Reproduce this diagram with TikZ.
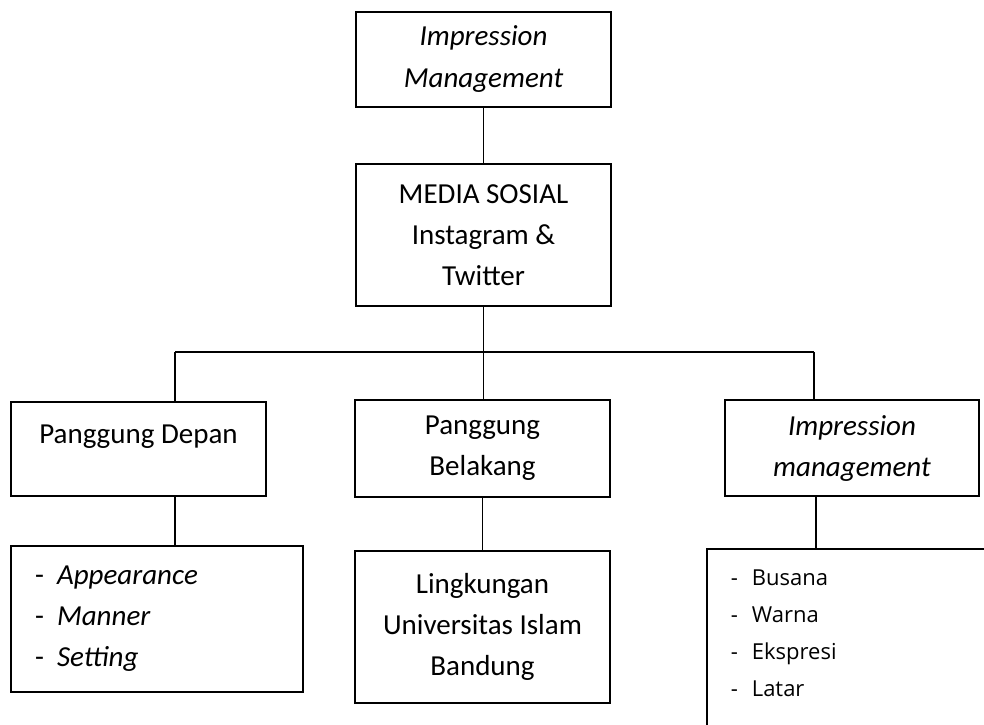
\documentclass[tikz,border=0pt]{standalone}
\usepackage{fontspec}
\setmainfont{Carlito}
\newfontfamily\osans{Open Sans}
\usetikzlibrary{positioning}

\begin{document}
\begin{tikzpicture}[x=0.5pt,y=-0.5pt,
  box/.style={draw, line width=0.85pt, inner sep=0pt, align=center,
    font=\fontsize{14.5}{20.5}\selectfont},
  listbox/.style={box, align=left, inner xsep=12pt},
  small/.style={font=\osans\fontsize{11}{18.5}\selectfont},
  link/.style={line width=0.6pt}]
\useasboundingbox (0,0) rectangle (984,724);
\clip (0,0) rectangle (984,724);

\node[box, minimum width=127.5pt, minimum height=47.5pt] (im) at (483.5,59.5)
  {\itshape Impression\\[0.5pt]\itshape Management};
\node[box, minimum width=127.5pt, minimum height=71pt] (ms) at (483.5,235)
  {MEDIA SOSIAL\\Instagram \&\\Twitter};

\node[box, minimum width=127.5pt, minimum height=47pt] (pd) at (138.5,449)
  {Panggung Depan\\[-12pt]\strut};
\node[box, minimum width=127.5pt, minimum height=48.5pt] (pb) at (482.5,448.5)
  {Panggung\\Belakang};
\node[box, minimum width=127pt, minimum height=48pt] (imr) at (852,448)
  {\itshape Impression\\\itshape management};

\node[listbox, text width=122pt, minimum height=73pt] (asp) at (157,619)
  {\makebox[11pt][l]{-}\textit{Appearance}\\
   \makebox[11pt][l]{-}\textit{Manner}\\
   \makebox[11pt][l]{-}\textit{Setting}};
\node[box, minimum width=127.5pt, minimum height=76pt] (lk) at (482.5,627)
  {Lingkungan\\Universitas Islam\\Bandung};
\node[listbox, small, text width=136pt, minimum height=108pt,
  anchor=north west] (uns) at (706,548)
  {\makebox[10.5pt][l]{-}Busana\\
   \makebox[10.5pt][l]{-}Warna\\
   \makebox[10.5pt][l]{-}Ekspresi\\
   \makebox[10.5pt][l]{-}Latar\\\strut};

\coordinate (jl) at (175,352);
\coordinate (jr) at (814,352);

\draw[link] (im) -- (ms);
\draw[link] (ms.south) -- (ms.south |- jl);
\draw[link] (jl) -- (jr);
\draw[link] (jl) -- (jl |- pd.north);
\draw[link] (ms.south |- jl) -- (ms.south |- pb.north);
\draw[link] (jr) -- (jr |- imr.north);
\draw[link] (jl |- pd.south) -- (jl |- asp.north);
\draw[link] (pb) -- (lk);
\draw[link] ([xshift=1pt]jr |- imr.south) -- ([xshift=1pt]jr |- uns.north);
\end{tikzpicture}
\end{document}
